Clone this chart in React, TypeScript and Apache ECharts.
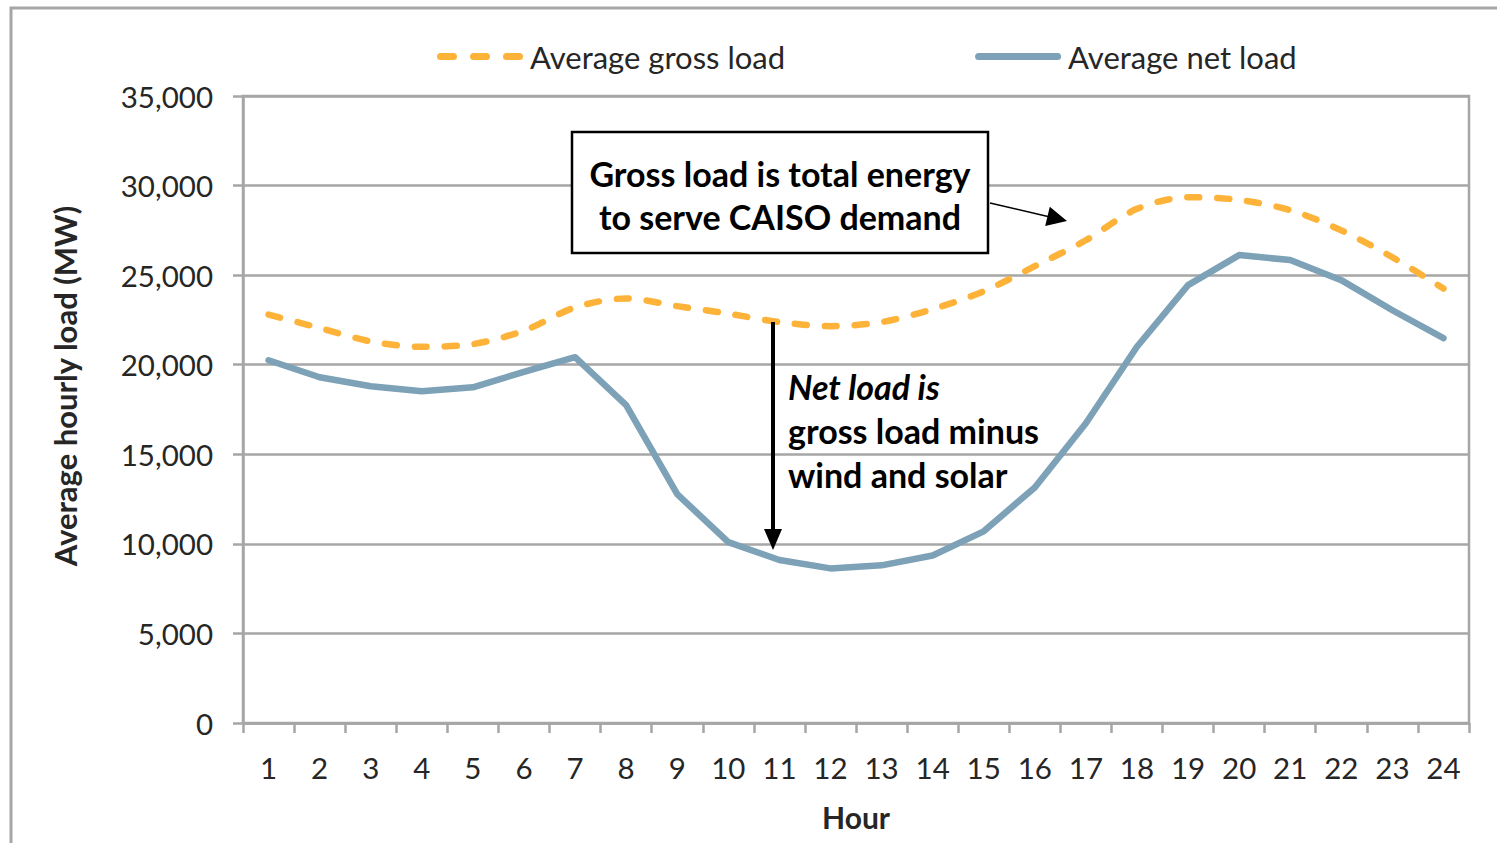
import React, { useEffect, useRef } from "react";
import * as echarts from "echarts";

const hours = ["1","2","3","4","5","6","7","8","9","10","11","12","13","14","15","16","17","18","19","20","21","22","23","24"];
const grossLoad = [22800, 22050, 21300, 21000, 21150, 21900, 23200, 23700, 23270, 22850, 22380, 22150, 22380, 23100, 24100, 25500, 26950, 28700, 29350, 29200, 28630, 27500, 26000, 24250];
const netLoad = [20250, 19300, 18800, 18520, 18740, 19600, 20420, 17740, 12770, 10100, 9100, 8630, 8800, 9350, 10700, 13150, 16730, 21000, 24440, 26120, 25840, 24720, 23040, 21480];
const seriesNames = ["Average gross load", "Average net load"];
const yMin = 0;
const yMax = 35000;
const yStep = 5000;

const FONT = "Lato, 'Open Sans', sans-serif";
const GRAY = "#A6A6A6";
const TEXT = "#262626";
const ORANGE = "#FDB33A";
const BLUE = "#7DA2B7";

const capsule = (x0: number, x1: number) =>
  `M${x0 + 3.5},0 L${x1 - 3.5},0 A3.5,3.5 0 0 1 ${x1 - 3.5},7 L${x0 + 3.5},7 A3.5,3.5 0 0 1 ${x0 + 3.5},0 Z`;
const dashedIcon = "path://" + capsule(0, 20) + " " + capsule(33, 53) + " " + capsule(66, 86);
const solidIcon = "path://" + capsule(0, 86);

export default function App() {
  const ref = useRef<HTMLDivElement>(null);
  useEffect(() => {
    if (!ref.current) return;
    const chart = echarts.init(ref.current, undefined, { renderer: "svg" });
    chart.setOption({
      animation: false,
      backgroundColor: "#ffffff",
      textStyle: { fontFamily: FONT },
      grid: {
        left: 243, right: 28, top: 96, bottom: 120,
        show: true, borderColor: GRAY, borderWidth: 2.5, backgroundColor: "transparent",
      },
      legend: {
        left: 432, top: 36, itemWidth: 86, itemHeight: 7, itemGap: 190,
        textStyle: { fontFamily: FONT, fontSize: 31, color: TEXT, padding: [0, 0, 0, 2] },
        data: [
          { name: seriesNames[0], icon: dashedIcon, itemStyle: { color: ORANGE } },
          { name: seriesNames[1], icon: solidIcon, itemStyle: { color: BLUE } },
        ],
      },
      xAxis: {
        type: "category",
        data: hours,
        boundaryGap: true,
        name: "Hour",
        nameLocation: "middle",
        nameGap: 79,
        nameTextStyle: { fontFamily: FONT, fontSize: 30, fontWeight: "bold", color: TEXT },
        axisLine: { lineStyle: { color: GRAY, width: 2.5 } },
        axisTick: { show: true, interval: 0, length: 10, lineStyle: { color: GRAY, width: 2.5 } },
        axisLabel: { interval: 0, margin: 29, fontFamily: FONT, fontSize: 29.5, color: TEXT },
      },
      yAxis: {
        type: "value",
        min: yMin, max: yMax, interval: yStep,
        axisLine: { show: true, lineStyle: { color: GRAY, width: 2.5 } },
        axisTick: { show: true, length: 10, lineStyle: { color: GRAY, width: 2.5 } },
        axisLabel: {
          margin: 30, fontFamily: FONT, fontSize: 29.5, color: TEXT,
          formatter: (v: number) => v.toLocaleString("en-US"),
        },
        splitLine: { show: true, lineStyle: { color: GRAY, width: 2.5 } },
      },
      series: [
        {
          name: seriesNames[0], type: "line", data: grossLoad, symbol: "none", smooth: 0.3,
          lineStyle: { color: ORANGE, width: 6.5, type: [12, 18], cap: "round" },
          itemStyle: { color: ORANGE }, z: 3,
        },
        {
          name: seriesNames[1], type: "line", data: netLoad, symbol: "none", smooth: false,
          lineStyle: { color: BLUE, width: 6.5, cap: "round", join: "round" },
          itemStyle: { color: BLUE }, z: 2,
        },
      ],
      graphic: [
        { type: "rect", z: -10, shape: { x: 11, y: 8, width: 1510, height: 860 }, style: { fill: "none", stroke: GRAY, lineWidth: 3 } },
        { type: "text", x: 65, y: 386, rotation: Math.PI / 2, style: { text: "Average hourly load (MW)", font: `bold 31px ${FONT}`, fill: TEXT, align: "center", verticalAlign: "middle" } },
        { type: "rect", z: 10, shape: { x: 572, y: 132, width: 416, height: 121 }, style: { fill: "#ffffff", stroke: "#000000", lineWidth: 2.5 } },
        { type: "text", z: 11, x: 780, y: 173, style: { text: "Gross load is total energy", font: `bold 34px ${FONT}`, fill: "#000000", align: "center", verticalAlign: "middle" } },
        { type: "text", z: 11, x: 780, y: 216, style: { text: "to serve CAISO demand", font: `bold 34px ${FONT}`, fill: "#000000", align: "center", verticalAlign: "middle" } },
        { type: "line", z: 10, shape: { x1: 990, y1: 203, x2: 1050, y2: 217 }, style: { stroke: "#000000", lineWidth: 1.5 } },
        { type: "polygon", z: 10, shape: { points: [[1067, 221], [1045.2, 226.1], [1049.8, 206.7]] }, style: { fill: "#000000" } },
        { type: "line", z: 10, shape: { x1: 773, y1: 322, x2: 773, y2: 533 }, style: { stroke: "#000000", lineWidth: 4 } },
        { type: "polygon", z: 10, shape: { points: [[764, 529], [782, 529], [773, 550]] }, style: { fill: "#000000" } },
        { type: "text", z: 11, x: 788, y: 386, style: { text: "Net load is", font: `italic bold 34px ${FONT}`, fill: "#000000", align: "left", verticalAlign: "middle" } },
        { type: "text", z: 11, x: 788, y: 430, style: { text: "gross load minus", font: `bold 34px ${FONT}`, fill: "#000000", align: "left", verticalAlign: "middle" } },
        { type: "text", z: 11, x: 788, y: 474, style: { text: "wind and solar", font: `bold 34px ${FONT}`, fill: "#000000", align: "left", verticalAlign: "middle" } },
      ],
    });
    return () => chart.dispose();
  }, []);
  return <div ref={ref} style={{ position: "absolute", left: 0, top: 0, width: 1497, height: 843 }} />;
}
